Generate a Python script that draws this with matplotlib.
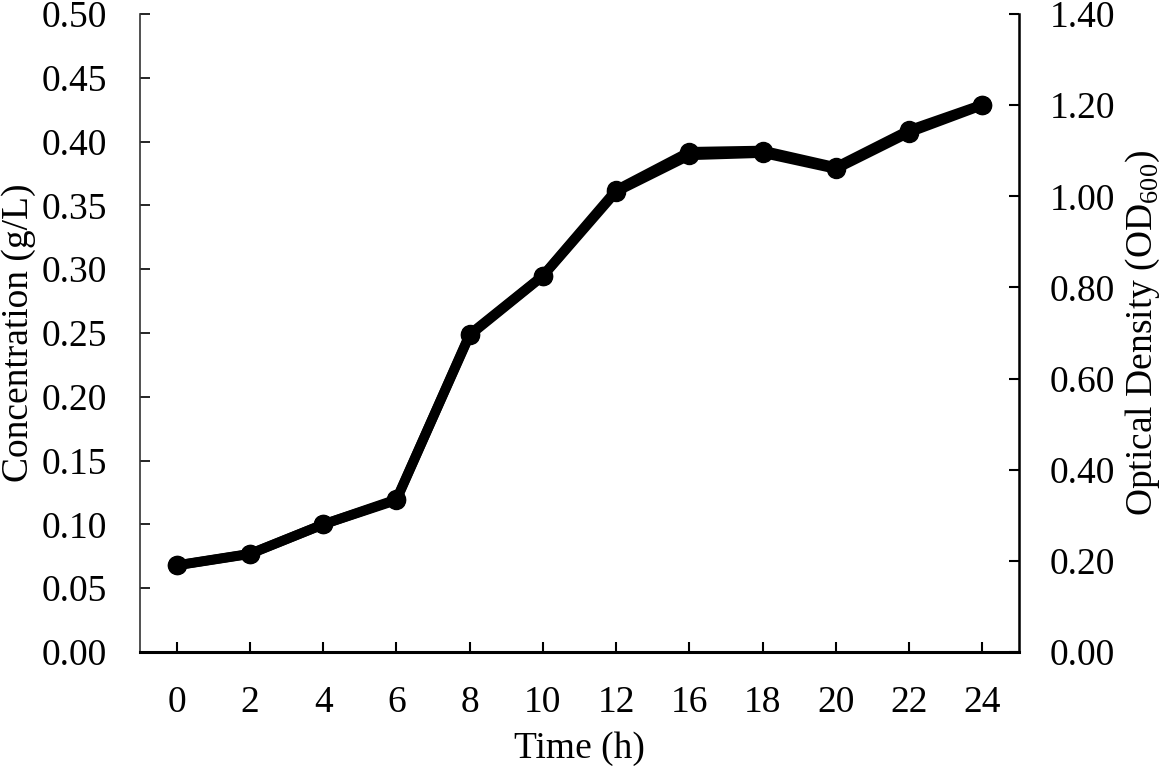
import matplotlib
matplotlib.use("Agg")
import matplotlib.pyplot as plt

plt.rcParams.update({
    "font.family": ["Liberation Serif", "DejaVu Serif"],
    "mathtext.fontset": "custom",
    "mathtext.rm": "Liberation Serif",
    "font.size": 27,
})

time_labels = ["0", "2", "4", "6", "8", "10", "12", "16", "18", "20", "22", "24"]
concentration = [0.068, 0.077, 0.100, 0.119, 0.249, 0.295, 0.362, 0.392, 0.393, 0.380, 0.409, 0.429]
optical_density = [0.190, 0.215, 0.280, 0.335, 0.695, 0.825, 1.010, 1.090, 1.095, 1.060, 1.140, 1.200]

left_ticks = [0.00, 0.05, 0.10, 0.15, 0.20, 0.25, 0.30, 0.35, 0.40, 0.45, 0.50]
right_ticks = [0.00, 0.20, 0.40, 0.60, 0.80, 1.00, 1.20, 1.40]

fig = plt.figure(figsize=(11.69, 7.66), dpi=100)
ax = fig.add_axes([0.1198, 0.1488, 0.7519, 0.8329])
ax2 = ax.twinx()

x = range(len(time_labels))
ax.plot(x, concentration, color="black", linewidth=7, marker="o", markersize=13, zorder=3)
ax2.plot(x, optical_density, color="black", linewidth=7, marker="o", markersize=13, zorder=3)

ax.set_xlim(-0.5, len(time_labels) - 0.5)
ax.set_xticks(list(x))
ax.set_xticklabels(time_labels)
ax.set_ylim(0, 0.5)
ax.set_yticks(left_ticks)
ax.set_yticklabels([f"{v:.2f}" for v in left_ticks])
ax2.set_ylim(0, 1.4)
ax2.set_yticks(right_ticks)
ax2.set_yticklabels([f"{v:.2f}" for v in right_ticks])

for a in (ax, ax2):
    a.spines["top"].set_visible(False)
ax.spines["left"].set_linewidth(1.2)
ax.spines["left"].set_color("#333333")
ax.spines["bottom"].set_linewidth(2.2)
ax2.spines["right"].set_linewidth(1.8)
ax2.spines["left"].set_visible(False)
ax2.spines["bottom"].set_visible(False)

ax.tick_params(axis="x", direction="in", length=7, width=1.5, pad=24)
ax.tick_params(axis="y", direction="in", length=7, width=1.2, pad=24)
ax2.tick_params(axis="y", direction="in", length=7, width=1.5, pad=22)

ax.set_xlabel("Time (h)", labelpad=8)
ax.set_ylabel("Concentration (g/L)", labelpad=4)
ax2.set_ylabel("Optical Density (OD$_{600}$)", rotation=90, labelpad=6)

fig.savefig("out.png", dpi=100)
